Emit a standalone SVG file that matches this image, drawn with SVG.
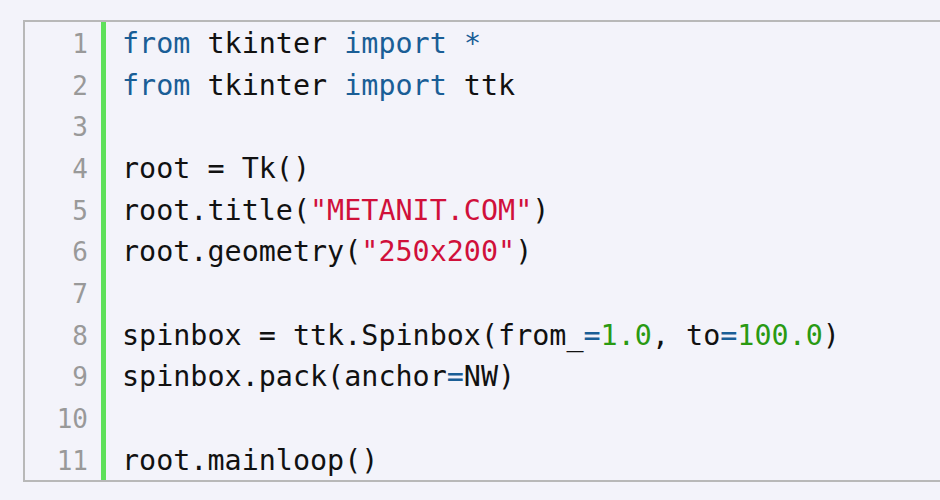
<svg xmlns="http://www.w3.org/2000/svg" width="940" height="500" viewBox="0 0 940 500">
<style>
.c{font-family:"DejaVu Sans Mono","Liberation Mono",monospace;font-size:28.4px;fill:#111}
.n{font-family:"DejaVu Sans Mono","Liberation Mono",monospace;font-size:26px;fill:#999;text-anchor:end}
.k{fill:#1a5e96}.s{fill:#d0103a}.g{fill:#2a9a12}
</style>
<rect width="940" height="500" fill="#f3f3fa"/>
<rect id="box" x="24" y="21" width="930" height="460" fill="#f3f3fa" stroke="#b8b8b8" stroke-width="2"/>
<rect x="101" y="22" width="5" height="458" fill="#5ee05a"/>
<g id="nums">
<text class="n" x="88" y="53">1</text><text class="n" x="88" y="95">2</text><text class="n" x="88" y="136">3</text>
<text class="n" x="88" y="178">4</text><text class="n" x="88" y="220">5</text><text class="n" x="88" y="261">6</text>
<text class="n" x="88" y="303">7</text><text class="n" x="88" y="345">8</text><text class="n" x="88" y="386">9</text>
<text class="n" x="88" y="428">10</text><text class="n" x="88" y="470">11</text>
</g>
<g id="code">
<text class="c" x="122" y="53" xml:space="preserve"><tspan class="k">from</tspan> tkinter <tspan class="k">import</tspan> <tspan class="k">*</tspan></text>
<text class="c" x="122" y="95" xml:space="preserve"><tspan class="k">from</tspan> tkinter <tspan class="k">import</tspan> ttk</text>
<text class="c" x="122" y="178" xml:space="preserve">root = Tk()</text>
<text class="c" x="122" y="220" xml:space="preserve">root.title(<tspan class="s">"METANIT.COM"</tspan>)</text>
<text class="c" x="122" y="261" xml:space="preserve">root.geometry(<tspan class="s">"250x200"</tspan>)</text>
<text class="c" x="122" y="345" xml:space="preserve">spinbox = ttk.Spinbox(from_<tspan class="k">=</tspan><tspan class="g">1.0</tspan>, to<tspan class="k">=</tspan><tspan class="g">100.0</tspan>)</text>
<text class="c" x="122" y="386" xml:space="preserve">spinbox.pack(anchor<tspan class="k">=</tspan>NW)</text>
<text class="c" x="122" y="470" xml:space="preserve">root.mainloop()</text>
</g>
</svg>
